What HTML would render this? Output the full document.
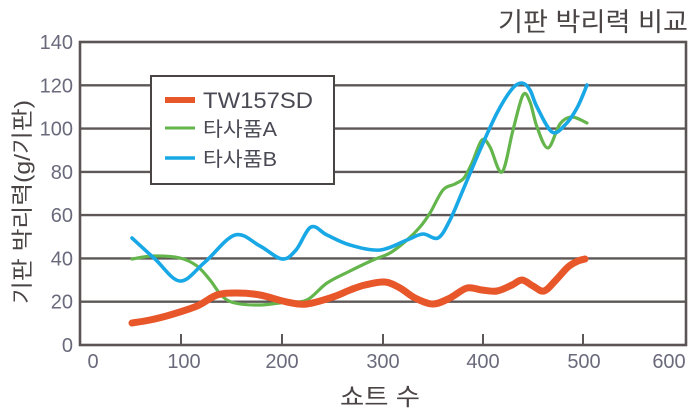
<!DOCTYPE html>
<html><head><meta charset="utf-8">
<style>
html,body{margin:0;padding:0;background:#fff;}
svg{display:block;}
.tk{font-family:"Liberation Sans",sans-serif;font-size:20px;fill:#6a6a7c;}
.ko{font-family:"Liberation Sans","Noto Sans CJK KR",sans-serif;}
</style></head>
<body>
<svg id="s" width="690" height="416" viewBox="0 0 690 416" xmlns="http://www.w3.org/2000/svg">
<rect width="690" height="416" fill="#fff"/>
<!-- title -->
<text class="ko" x="498" y="31" font-size="26" fill="#4a4444" textLength="190" lengthAdjust="spacingAndGlyphs">기판 박리력 비교</text>
<!-- gridlines -->
<g stroke="#5d5757" stroke-width="2.4">
<line x1="80" y1="85.3" x2="686" y2="85.3"/>
<line x1="80" y1="128.6" x2="686" y2="128.6"/>
<line x1="80" y1="171.9" x2="686" y2="171.9"/>
<line x1="80" y1="215.1" x2="686" y2="215.1"/>
<line x1="80" y1="258.4" x2="686" y2="258.4"/>
<line x1="80" y1="301.7" x2="686" y2="301.7"/>
</g>
<!-- ticks -->
<g stroke="#5d5757" stroke-width="2">
<line x1="181" y1="334" x2="181" y2="345"/>
<line x1="282" y1="334" x2="282" y2="345"/>
<line x1="383" y1="334" x2="383" y2="345"/>
<line x1="483" y1="334" x2="483" y2="345"/>
<line x1="583" y1="334" x2="583" y2="345"/>
</g>
<!-- frame -->
<rect x="80" y="42" width="606" height="303" fill="none" stroke="#5a5454" stroke-width="2.6"/>
<!-- y labels -->
<g class="tk" text-anchor="end">
<text x="73" y="49">140</text>
<text x="73" y="92.3">120</text>
<text x="73" y="135.6">100</text>
<text x="73" y="178.9">80</text>
<text x="73" y="222.1">60</text>
<text x="73" y="265.4">40</text>
<text x="73" y="308.7">20</text>
<text x="73" y="352">0</text>
</g>
<!-- x labels -->
<g class="tk" text-anchor="middle">
<text x="93" y="368">0</text>
<text x="184" y="368">100</text>
<text x="282" y="368">200</text>
<text x="383" y="368">300</text>
<text x="483" y="368">400</text>
<text x="584" y="368">500</text>
<text x="669" y="368">600</text>
</g>
<!-- axis titles -->
<text class="ko" x="340" y="405" font-size="24" fill="#4a4444" textLength="80" lengthAdjust="spacingAndGlyphs">쇼트 수</text>
<text class="ko" transform="translate(30,304) rotate(-90)" x="0" y="0" font-size="22" fill="#4a4444" textLength="204" lengthAdjust="spacingAndGlyphs">기판 박리력(g/기판)</text>
<!-- legend -->
<rect x="151" y="76" width="183" height="108" fill="#fff" stroke="#4a4545" stroke-width="2"/>
<line x1="165" y1="100" x2="195" y2="100" stroke="#e8572a" stroke-width="6"/>
<line x1="165" y1="128" x2="195" y2="128" stroke="#64b54c" stroke-width="3"/>
<line x1="165" y1="158" x2="195" y2="158" stroke="#19a8e6" stroke-width="3.5"/>
<text class="ko" x="203" y="108" font-size="22" fill="#4a4a55" textLength="110" lengthAdjust="spacingAndGlyphs">TW157SD</text>
<text class="ko" x="203" y="136" font-size="20" fill="#4a4a55" textLength="74" lengthAdjust="spacingAndGlyphs">타사품A</text>
<text class="ko" x="203" y="166" font-size="20" fill="#4a4a55" textLength="74" lengthAdjust="spacingAndGlyphs">타사품B</text>
<!-- series -->
<polyline class="sm" fill="none" stroke="#64b54c" stroke-width="3.2" stroke-linejoin="round" stroke-linecap="round"
points="132,259 153,256 180,258 197,266 210,280 222,296 235,303 260,305 287,302 307,300 327,283 350,271 373,260 390,253 407,240 420,227 430,213 443,190 455,184 464,178 472,163 482,140 490,147 502,172 513,130 523,95 530,102 537,127 548,148 560,124 572,117 587,123"/>
<polyline class="sm" fill="none" stroke="#19a8e6" stroke-width="3.6" stroke-linejoin="round" stroke-linecap="round"
points="132,238 155,259 180,281 205,262 235,235 260,246 282,259 296,250 311,227 327,235 350,245 380,250 407,240 423,234 438,238 450,220 463,190 480,150 497,113 512,89 522,83 530,90 537,107 552,132 565,125 577,108 587,85"/>
<polyline class="sm" fill="none" stroke="#e8572a" stroke-width="7" stroke-linejoin="round" stroke-linecap="round"
points="132,323 150,320 170,315 197,306 217,295 237,293 260,295 287,302 307,304 333,297 350,290 365,285 385,282 400,288 415,298 433,304 450,298 467,288 482,290 497,291 512,285 522,280 533,286 544,291 556,280 568,267 578,261 585,259"/>
</svg>
<script>
(function(){
var ns="http://www.w3.org/2000/svg";
var pls=document.querySelectorAll("polyline.sm");
for(var k=0;k<pls.length;k++){
  var pl=pls[k];
  var pts=pl.getAttribute("points").trim().split(/\s+/).map(function(s){var a=s.split(",");return [parseFloat(a[0]),parseFloat(a[1])];});
  var d="M"+pts[0][0]+","+pts[0][1];
  for(var i=0;i<pts.length-1;i++){
    var p0=pts[i>0?i-1:i],p1=pts[i],p2=pts[i+1],p3=pts[i+2<pts.length?i+2:i+1];
    var c1x=p1[0]+(p2[0]-p0[0])/6,c1y=p1[1]+(p2[1]-p0[1])/6;
    var c2x=p2[0]-(p3[0]-p1[0])/6,c2y=p2[1]-(p3[1]-p1[1])/6;
    d+=" C"+c1x.toFixed(2)+","+c1y.toFixed(2)+" "+c2x.toFixed(2)+","+c2y.toFixed(2)+" "+p2[0]+","+p2[1];
  }
  var path=document.createElementNS(ns,"path");
  path.setAttribute("d",d);
  ["fill","stroke","stroke-width","stroke-linejoin","stroke-linecap"].forEach(function(a){path.setAttribute(a,pl.getAttribute(a));});
  pl.parentNode.replaceChild(path,pl);
}
})();
</script>
</body></html>
